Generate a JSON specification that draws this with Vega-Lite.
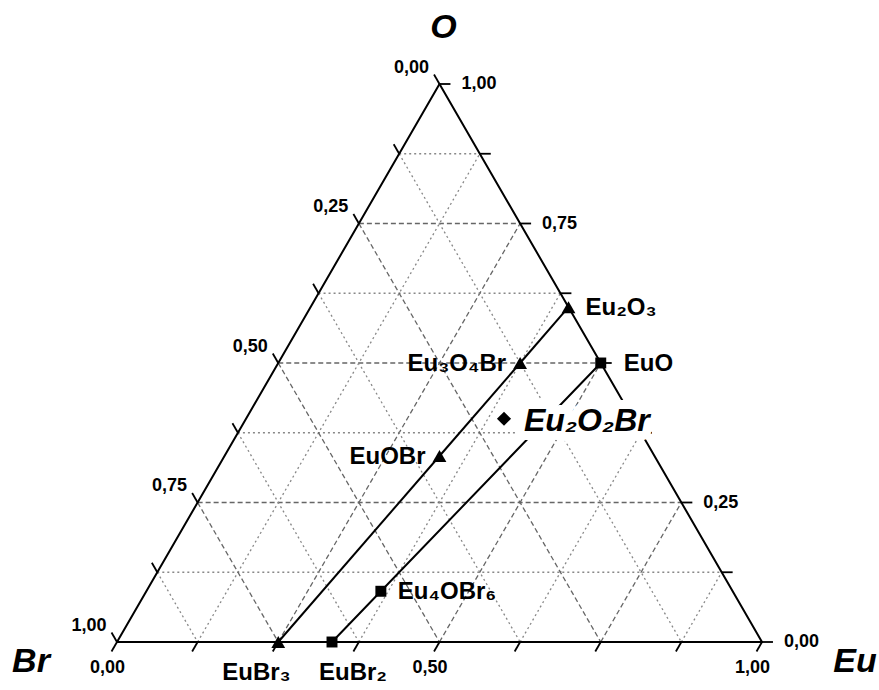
{
  "$schema": "https://vega.github.io/schema/vega-lite/v6.json",
  "width": 645,
  "height": 558,
  "autosize": {"type": "none"},
  "padding": {"left": 117, "top": 84, "right": 117, "bottom": 48},
  "background": "white",
  "config": {
    "view": {"stroke": null},
    "text": {"font": "Liberation Sans", "fontWeight": "bold", "color": "#000000"}
  },
  "datasets": {
    "compounds": [
      {"formula": "EuBr₃", "Eu": 1, "O": 0, "Br": 3, "valence": "Eu(III)"},
      {"formula": "EuOBr", "Eu": 1, "O": 1, "Br": 1, "valence": "Eu(III)"},
      {"formula": "Eu₃O₄Br", "Eu": 3, "O": 4, "Br": 1, "valence": "Eu(III)"},
      {"formula": "Eu₂O₃", "Eu": 2, "O": 3, "Br": 0, "valence": "Eu(III)"},
      {"formula": "EuBr₂", "Eu": 1, "O": 0, "Br": 2, "valence": "Eu(II)"},
      {"formula": "Eu₄OBr₆", "Eu": 4, "O": 1, "Br": 6, "valence": "Eu(II)"},
      {"formula": "EuO", "Eu": 1, "O": 1, "Br": 0, "valence": "Eu(II)"},
      {"formula": "Eu₂O₂Br", "Eu": 2, "O": 2, "Br": 1, "valence": "Eu(II/III)"}
    ],
    "vertices": [
      {"label": "O", "Eu": 0, "O": 1, "Br": 0},
      {"label": "Br", "Eu": 0, "O": 0, "Br": 1},
      {"label": "Eu", "Eu": 1, "O": 0, "Br": 0}
    ],
    "grid": [
      {"family": "O", "level": 0.125}, {"family": "O", "level": 0.25}, {"family": "O", "level": 0.375},
      {"family": "O", "level": 0.5}, {"family": "O", "level": 0.625}, {"family": "O", "level": 0.75},
      {"family": "O", "level": 0.875},
      {"family": "Eu", "level": 0.125}, {"family": "Eu", "level": 0.25}, {"family": "Eu", "level": 0.375},
      {"family": "Eu", "level": 0.5}, {"family": "Eu", "level": 0.625}, {"family": "Eu", "level": 0.75},
      {"family": "Eu", "level": 0.875},
      {"family": "Br", "level": 0.125}, {"family": "Br", "level": 0.25}, {"family": "Br", "level": 0.375},
      {"family": "Br", "level": 0.5}, {"family": "Br", "level": 0.625}, {"family": "Br", "level": 0.75},
      {"family": "Br", "level": 0.875},
      {"family": "O", "level": 0}, {"family": "Eu", "level": 0}, {"family": "Br", "level": 0}
    ],
    "ticks": [
      {"axis": "Br", "value": 0}, {"axis": "Br", "value": 0.125}, {"axis": "Br", "value": 0.25},
      {"axis": "Br", "value": 0.375}, {"axis": "Br", "value": 0.5}, {"axis": "Br", "value": 0.625},
      {"axis": "Br", "value": 0.75}, {"axis": "Br", "value": 0.875}, {"axis": "Br", "value": 1},
      {"axis": "O", "value": 0}, {"axis": "O", "value": 0.125}, {"axis": "O", "value": 0.25},
      {"axis": "O", "value": 0.375}, {"axis": "O", "value": 0.5}, {"axis": "O", "value": 0.625},
      {"axis": "O", "value": 0.75}, {"axis": "O", "value": 0.875}, {"axis": "O", "value": 1},
      {"axis": "Eu", "value": 0}, {"axis": "Eu", "value": 0.125}, {"axis": "Eu", "value": 0.25},
      {"axis": "Eu", "value": 0.375}, {"axis": "Eu", "value": 0.5}, {"axis": "Eu", "value": 0.625},
      {"axis": "Eu", "value": 0.75}, {"axis": "Eu", "value": 0.875}, {"axis": "Eu", "value": 1}
    ],
    "tickLabels": [
      {"axis": "Br", "value": 0}, {"axis": "Br", "value": 0.25}, {"axis": "Br", "value": 0.5},
      {"axis": "Br", "value": 0.75}, {"axis": "Br", "value": 1},
      {"axis": "O", "value": 0}, {"axis": "O", "value": 0.25}, {"axis": "O", "value": 0.75},
      {"axis": "O", "value": 1},
      {"axis": "Eu", "value": 0}, {"axis": "Eu", "value": 0.5}, {"axis": "Eu", "value": 1}
    ]
  },
  "layer": [
    {
      "data": {"name": "grid"},
      "transform": [
        {"calculate": "datum.family == 'O' ? datum.level / 2 : datum.family == 'Eu' ? datum.level : (1 - datum.level) / 2", "as": "x"},
        {"calculate": "datum.family == 'O' ? datum.level : datum.family == 'Eu' ? 0 : 1 - datum.level", "as": "y"},
        {"calculate": "datum.family == 'O' ? 1 - datum.level / 2 : datum.family == 'Eu' ? (1 + datum.level) / 2 : 1 - datum.level", "as": "x2"},
        {"calculate": "datum.family == 'O' ? datum.level : datum.family == 'Eu' ? 1 - datum.level : 0", "as": "y2"},
        {"calculate": "datum.level % 0.25 == 0 ? 'major' : 'minor'", "as": "kind"}
      ],
      "layer": [
        {
          "transform": [{"filter": "datum.level > 0"}],
          "mark": {"type": "rule", "strokeWidth": 1.3},
          "encoding": {
            "x": {"field": "x", "type": "quantitative", "scale": {"domain": [0, 1], "nice": false, "zero": false}, "axis": null},
            "y": {"field": "y", "type": "quantitative", "scale": {"domain": [0, 1], "nice": false, "zero": false}, "axis": null},
            "x2": {"field": "x2"},
            "y2": {"field": "y2"},
            "color": {"field": "kind", "type": "nominal", "scale": {"domain": ["major", "minor"], "range": ["#666666", "#888888"]}, "legend": null},
            "strokeDash": {"field": "kind", "type": "nominal", "scale": {"domain": ["major", "minor"], "range": [[5, 3], [2, 3]]}, "legend": null}
          }
        },
        {
          "transform": [{"filter": "datum.level == 0"}],
          "mark": {"type": "rule", "strokeWidth": 2, "color": "#000000", "strokeCap": "round"},
          "encoding": {
            "x": {"field": "x", "type": "quantitative", "scale": {"domain": [0, 1], "nice": false, "zero": false}, "axis": null},
            "y": {"field": "y", "type": "quantitative", "scale": {"domain": [0, 1], "nice": false, "zero": false}, "axis": null},
            "x2": {"field": "x2"},
            "y2": {"field": "y2"}
          }
        }
      ]
    },
    {
      "data": {"name": "ticks"},
      "transform": [
        {"calculate": "datum.axis == 'Br' ? (1 - datum.value) / 2 : datum.axis == 'O' ? 1 - datum.value / 2 : datum.value", "as": "x"},
        {"calculate": "datum.axis == 'Br' ? 1 - datum.value : datum.axis == 'O' ? datum.value : 0", "as": "y"},
        {"calculate": "datum.axis == 'O' ? datum.x + 0.017 : datum.x - 0.0085", "as": "xe"},
        {"calculate": "datum.axis == 'Br' ? datum.y + 0.017 : datum.axis == 'O' ? datum.y : datum.y - 0.017", "as": "ye"}
      ],
      "mark": {"type": "rule", "strokeWidth": 1.8, "color": "#000000"},
      "encoding": {
        "x": {"field": "x", "type": "quantitative", "scale": {"domain": [0, 1], "nice": false, "zero": false}, "axis": null},
        "y": {"field": "y", "type": "quantitative", "scale": {"domain": [0, 1], "nice": false, "zero": false}, "axis": null},
        "x2": {"field": "xe"},
        "y2": {"field": "ye"}
      }
    },
    {
      "data": {"name": "tickLabels"},
      "transform": [
        {"calculate": "datum.axis == 'Br' ? (1 - datum.value) / 2 : datum.axis == 'O' ? 1 - datum.value / 2 : datum.value", "as": "x"},
        {"calculate": "datum.axis == 'Br' ? 1 - datum.value : datum.axis == 'O' ? datum.value : 0", "as": "y"},
        {"calculate": "datum.axis == 'O' ? datum.x + 0.017 : datum.x - 0.0085", "as": "xe"},
        {"calculate": "datum.axis == 'Br' ? datum.y + 0.017 : datum.axis == 'O' ? datum.y : datum.y - 0.017", "as": "ye"},
        {"calculate": "replace(format(datum.value, '.2f'), '.', ',')", "as": "label"}
      ],
      "encoding": {
        "x": {"field": "xe", "type": "quantitative", "scale": {"domain": [0, 1], "nice": false, "zero": false}, "axis": null},
        "y": {"field": "ye", "type": "quantitative", "scale": {"domain": [0, 1], "nice": false, "zero": false}, "axis": null},
        "text": {"field": "label"}
      },
      "layer": [
        {
          "transform": [{"filter": "datum.axis == 'Br'"}],
          "mark": {"type": "text", "fontSize": 18, "align": "right", "baseline": "alphabetic", "dx": -5, "dy": -2}
        },
        {
          "transform": [{"filter": "datum.axis == 'O'"}],
          "mark": {"type": "text", "fontSize": 18, "align": "left", "baseline": "middle", "dx": 11, "dy": 0}
        },
        {
          "transform": [{"filter": "datum.axis == 'Eu'"}],
          "mark": {"type": "text", "fontSize": 18, "align": "center", "baseline": "top", "dx": -4, "dy": 8}
        }
      ]
    },
    {
      "data": {"name": "compounds"},
      "transform": [
        {"calculate": "(datum.Eu + datum.O / 2) / (datum.Eu + datum.O + datum.Br)", "as": "x"},
        {"calculate": "datum.O / (datum.Eu + datum.O + datum.Br)", "as": "y"}
      ],
      "encoding": {
        "x": {"field": "x", "type": "quantitative", "scale": {"domain": [0, 1], "nice": false, "zero": false}, "axis": null},
        "y": {"field": "y", "type": "quantitative", "scale": {"domain": [0, 1], "nice": false, "zero": false}, "axis": null}
      },
      "layer": [
        {
          "transform": [{"filter": "datum.valence != 'Eu(II/III)'"}],
          "mark": {"type": "line", "color": "#000000", "strokeWidth": 2},
          "encoding": {
            "detail": {"field": "valence", "type": "nominal"},
            "order": {"field": "y", "type": "quantitative"}
          }
        },
        {
          "transform": [{"filter": {"field": "formula", "equal": "Eu₂O₂Br"}}],
          "mark": {"type": "text", "fontSize": 32, "fontStyle": "italic", "align": "left", "baseline": "alphabetic", "dx": 20, "dy": 12, "color": "white", "stroke": "white", "strokeWidth": 18, "strokeJoin": "round"},
          "encoding": {"text": {"field": "formula"}}
        },
        {
          "transform": [{"filter": "datum.valence == 'Eu(III)'"}],
          "mark": {"type": "point", "shape": "triangle-up", "size": 190, "filled": true, "opacity": 1, "color": "#000000"}
        },
        {
          "transform": [{"filter": "datum.valence == 'Eu(II)'"}],
          "mark": {"type": "point", "shape": "square", "size": 120, "filled": true, "opacity": 1, "color": "#000000"}
        },
        {
          "transform": [{"filter": "datum.valence == 'Eu(II/III)'"}],
          "mark": {"type": "point", "shape": "diamond", "size": 200, "filled": true, "opacity": 1, "color": "#000000"}
        },
        {
          "transform": [{"filter": {"field": "formula", "oneOf": ["Eu₂O₃", "Eu₄OBr₆"]}}],
          "mark": {"type": "text", "fontSize": 24, "align": "left", "baseline": "alphabetic", "dx": 17, "dy": 8},
          "encoding": {"text": {"field": "formula"}}
        },
        {
          "transform": [{"filter": {"field": "formula", "oneOf": ["EuO"]}}],
          "mark": {"type": "text", "fontSize": 24, "align": "left", "baseline": "alphabetic", "dx": 23, "dy": 8},
          "encoding": {"text": {"field": "formula"}}
        },
        {
          "transform": [{"filter": {"field": "formula", "oneOf": ["Eu₃O₄Br", "EuOBr"]}}],
          "mark": {"type": "text", "fontSize": 24, "align": "right", "baseline": "alphabetic", "dx": -14, "dy": 8},
          "encoding": {"text": {"field": "formula"}}
        },
        {
          "transform": [{"filter": {"field": "formula", "oneOf": ["EuBr₃"]}}],
          "mark": {"type": "text", "fontSize": 24, "align": "left", "baseline": "alphabetic", "dx": -56, "dy": 38},
          "encoding": {"text": {"field": "formula"}}
        },
        {
          "transform": [{"filter": {"field": "formula", "oneOf": ["EuBr₂"]}}],
          "mark": {"type": "text", "fontSize": 24, "align": "left", "baseline": "alphabetic", "dx": -13, "dy": 38},
          "encoding": {"text": {"field": "formula"}}
        },
        {
          "transform": [{"filter": {"field": "formula", "equal": "Eu₂O₂Br"}}],
          "mark": {"type": "text", "fontSize": 32, "fontStyle": "italic", "align": "left", "baseline": "alphabetic", "dx": 20, "dy": 12},
          "encoding": {"text": {"field": "formula"}}
        }
      ]
    },
    {
      "data": {"name": "vertices"},
      "transform": [
        {"calculate": "(datum.Eu + datum.O / 2) / (datum.Eu + datum.O + datum.Br)", "as": "x"},
        {"calculate": "datum.O / (datum.Eu + datum.O + datum.Br)", "as": "y"}
      ],
      "encoding": {
        "x": {"field": "x", "type": "quantitative", "scale": {"domain": [0, 1], "nice": false, "zero": false}, "axis": null},
        "y": {"field": "y", "type": "quantitative", "scale": {"domain": [0, 1], "nice": false, "zero": false}, "axis": null},
        "text": {"field": "label"}
      },
      "layer": [
        {
          "transform": [{"filter": "datum.label == 'O'"}],
          "mark": {"type": "text", "fontSize": 34, "fontStyle": "italic", "align": "center", "baseline": "alphabetic", "dx": 4, "dy": -46}
        },
        {
          "transform": [{"filter": "datum.label == 'Br'"}],
          "mark": {"type": "text", "fontSize": 34, "fontStyle": "italic", "align": "center", "baseline": "alphabetic", "dx": -86, "dy": 30}
        },
        {
          "transform": [{"filter": "datum.label == 'Eu'"}],
          "mark": {"type": "text", "fontSize": 34, "fontStyle": "italic", "align": "center", "baseline": "alphabetic", "dx": 93, "dy": 30}
        }
      ]
    }
  ]
}
